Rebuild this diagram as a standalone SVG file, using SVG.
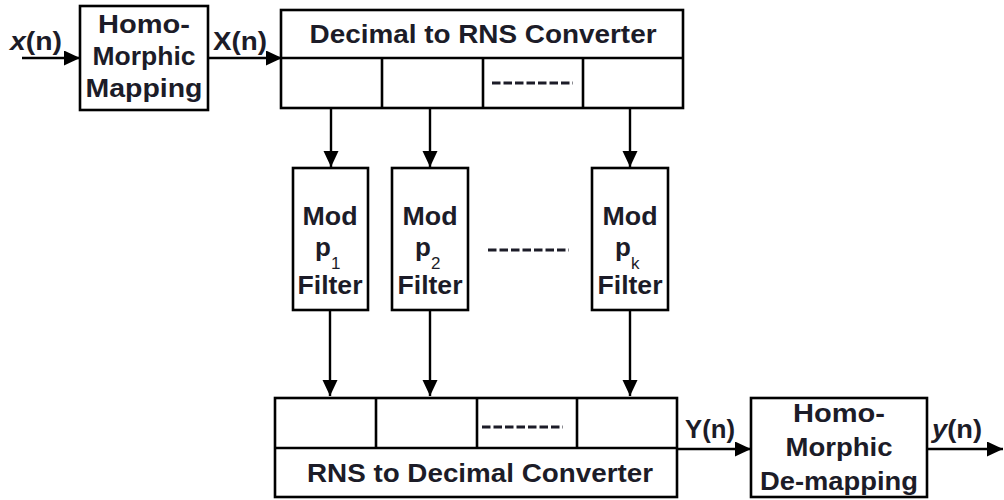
<svg xmlns="http://www.w3.org/2000/svg" width="1004" height="500" viewBox="0 0 1004 500">
<defs>
<marker id="ah" markerUnits="userSpaceOnUse" markerWidth="17" markerHeight="16" refX="16" refY="7.5" orient="auto">
<path d="M0,0 L16,7.5 L0,15 z" fill="#000"/>
</marker>
<style>
.box{fill:#fff;stroke:#000;stroke-width:2.6}
.ln{fill:none;stroke:#000;stroke-width:2.6}
.con{fill:none;stroke:#000;stroke-width:2.4;marker-end:url(#ah)}
.t{font-family:"Liberation Sans",Arial,sans-serif;font-weight:bold;font-size:25px;fill:#1c1c28;text-anchor:middle}
.tl{font-family:"Liberation Sans",Arial,sans-serif;font-weight:bold;font-size:25px;fill:#1c1c28}
.p{font-family:"Liberation Sans",Arial,sans-serif;font-weight:bold;font-size:26px;fill:#1c1c28}
.sub{font-size:17px;font-weight:normal}
.dash{fill:none;stroke:#1c1c28;stroke-width:2.8;stroke-dasharray:8.5,3}
</style>
</defs>
<rect width="1004" height="500" fill="#fff"/>

<g id="connectors">
<line class="con" x1="22" y1="58" x2="80" y2="58"/>
<line class="con" x1="208" y1="58" x2="282" y2="58"/>
<line class="con" x1="331" y1="108" x2="331" y2="167"/>
<line class="con" x1="430" y1="108" x2="430" y2="167"/>
<line class="con" x1="630" y1="108" x2="630" y2="167"/>
<line class="con" x1="330" y1="310" x2="330" y2="396"/>
<line class="con" x1="430" y1="310" x2="430" y2="396"/>
<line class="con" x1="630" y1="310" x2="630" y2="396"/>
<line class="con" x1="677" y1="449" x2="751" y2="449"/>
<line class="con" x1="927" y1="449" x2="1003" y2="449"/>
<text class="tl" x="10" y="50" textLength="52" lengthAdjust="spacingAndGlyphs"><tspan font-style="italic">x</tspan>(n)</text>
<text class="tl" x="213" y="50" textLength="54" lengthAdjust="spacingAndGlyphs">X(n)</text>
<text class="tl" x="685" y="438" textLength="50" lengthAdjust="spacingAndGlyphs">Y(n)</text>
<text class="tl" x="932" y="438" textLength="50" lengthAdjust="spacingAndGlyphs"><tspan font-style="italic">y</tspan>(n)</text>
</g>

<g id="homomorphic-mapping">
<rect class="box" x="80" y="6" width="128" height="104"/>
<text class="t" x="144" y="33" textLength="92" lengthAdjust="spacingAndGlyphs">Homo-</text>
<text class="t" x="144" y="65" textLength="103" lengthAdjust="spacingAndGlyphs">Morphic</text>
<text class="t" x="144" y="97" textLength="117" lengthAdjust="spacingAndGlyphs">Mapping</text>
</g>

<g id="decimal-to-rns">
<rect class="box" x="281" y="10" width="402" height="98"/>
<line class="ln" x1="281" y1="58" x2="683" y2="58"/>
<line class="ln" x1="382" y1="58" x2="382" y2="108"/>
<line class="ln" x1="483" y1="58" x2="483" y2="108"/>
<line class="ln" x1="583" y1="58" x2="583" y2="108"/>
<line class="dash" x1="492" y1="83" x2="573" y2="83"/>
<text class="t" x="483" y="43" textLength="347" lengthAdjust="spacingAndGlyphs">Decimal to RNS Converter</text>
</g>

<g id="mod-p1-filter">
<rect class="box" x="293" y="168" width="75" height="142"/>
<text class="t" x="330" y="225" textLength="55" lengthAdjust="spacingAndGlyphs">Mod</text>
<text class="p" x="315" y="256">p<tspan class="sub" dy="13">1</tspan></text>
<text class="t" x="330" y="294" textLength="65" lengthAdjust="spacingAndGlyphs">Filter</text>
</g>

<g id="mod-p2-filter">
<rect class="box" x="392" y="168" width="76" height="142"/>
<text class="t" x="430" y="225" textLength="55" lengthAdjust="spacingAndGlyphs">Mod</text>
<text class="p" x="415" y="256">p<tspan class="sub" dy="13">2</tspan></text>
<text class="t" x="430" y="294" textLength="65" lengthAdjust="spacingAndGlyphs">Filter</text>
</g>

<g id="filter-ellipsis">
<line class="dash" x1="488" y1="250" x2="569" y2="250"/>
</g>

<g id="mod-pk-filter">
<rect class="box" x="592" y="168" width="76" height="142"/>
<text class="t" x="630" y="225" textLength="55" lengthAdjust="spacingAndGlyphs">Mod</text>
<text class="p" x="615" y="256">p<tspan class="sub" dy="13">k</tspan></text>
<text class="t" x="630" y="294" textLength="65" lengthAdjust="spacingAndGlyphs">Filter</text>
</g>

<g id="rns-to-decimal">
<rect class="box" x="275" y="398" width="402" height="99"/>
<line class="ln" x1="275" y1="448" x2="677" y2="448"/>
<line class="ln" x1="376" y1="398" x2="376" y2="448"/>
<line class="ln" x1="477" y1="398" x2="477" y2="448"/>
<line class="ln" x1="577" y1="398" x2="577" y2="448"/>
<line class="dash" x1="482" y1="427" x2="563" y2="427"/>
<text class="t" x="480" y="482" textLength="346" lengthAdjust="spacingAndGlyphs">RNS to Decimal Converter</text>
</g>

<g id="homomorphic-demapping">
<rect class="box" x="751" y="398" width="176" height="99"/>
<text class="t" x="839" y="422" textLength="92" lengthAdjust="spacingAndGlyphs">Homo-</text>
<text class="t" x="839" y="456" textLength="107" lengthAdjust="spacingAndGlyphs">Morphic</text>
<text class="t" x="839" y="490" textLength="158" lengthAdjust="spacingAndGlyphs">De-mapping</text>
</g>
</svg>
